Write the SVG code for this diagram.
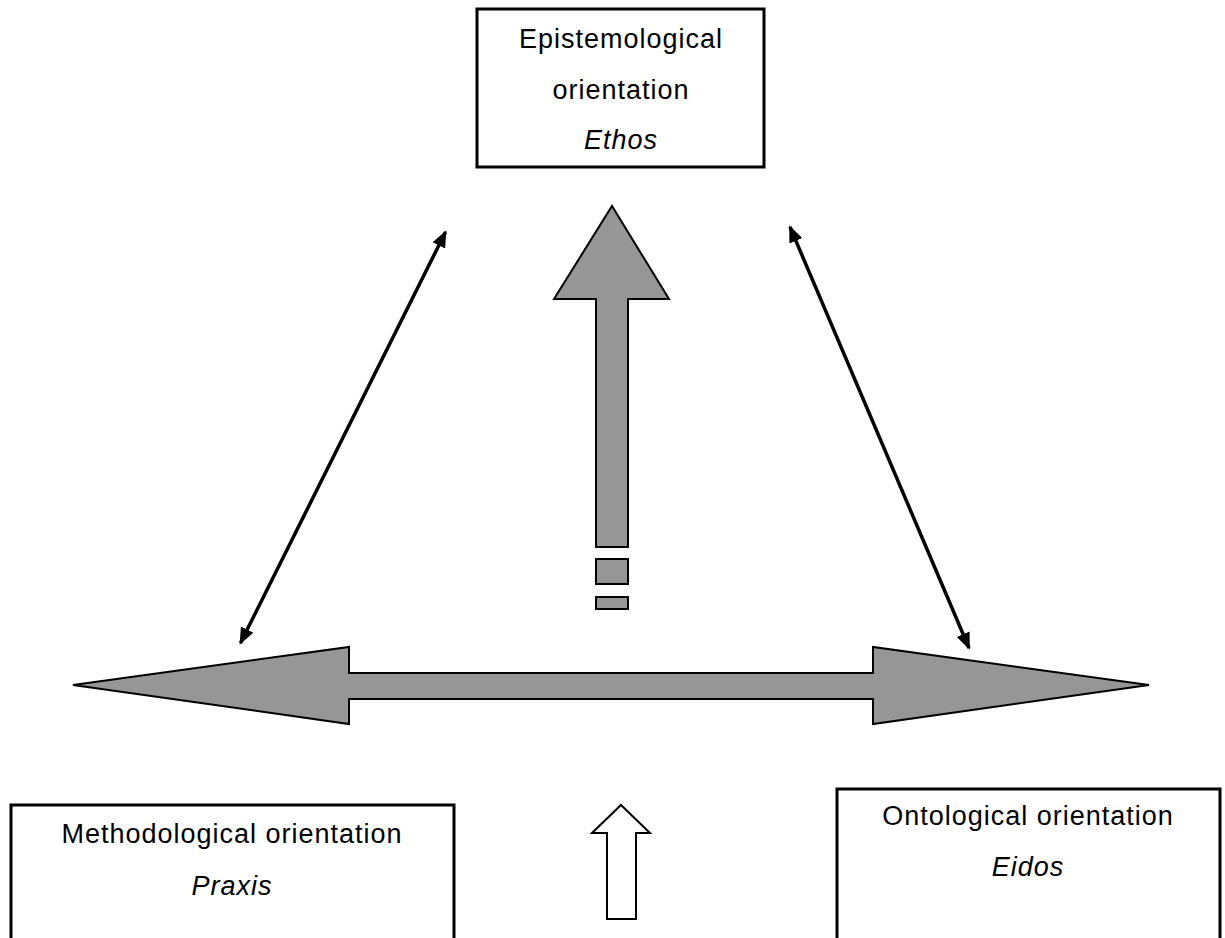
<svg xmlns="http://www.w3.org/2000/svg" width="1225" height="938" viewBox="0 0 1225 938">
<style>
.box{fill:#fff;stroke:#000;stroke-width:3}
.t{font-family:"Liberation Sans",Arial,sans-serif;font-size:27px;letter-spacing:1px;fill:#000;text-anchor:middle}
.i{font-style:italic}
.grey{fill:#969696;stroke:#000;stroke-width:2;stroke-linejoin:miter}
.conn{stroke:#000;stroke-width:3.5;fill:none;marker-start:url(#ah);marker-end:url(#ah)}
</style>
<defs>
<marker id="ah" viewBox="0 0 17 14" refX="15" refY="7" markerWidth="17" markerHeight="14" markerUnits="userSpaceOnUse" orient="auto-start-reverse">
<path d="M0,0 L17,7 L0,14 Z" fill="#000"/>
</marker>
</defs>
<rect width="1225" height="938" fill="#fff"/>
<g id="ethos">
<rect class="box" x="477" y="9" width="287" height="158"/>
<text class="t" x="621" y="48">Epistemological</text>
<text class="t" x="621" y="99">orientation</text>
<text class="t i" x="621" y="149">Ethos</text>
</g>
<g id="praxis">
<rect class="box" x="11" y="805" width="443" height="150"/>
<text class="t" x="232" y="843">Methodological orientation</text>
<text class="t i" x="232" y="895">Praxis</text>
</g>
<g id="eidos">
<rect class="box" x="837" y="789" width="383" height="170"/>
<text class="t" x="1028" y="825">Ontological orientation</text>
<text class="t i" x="1028" y="876">Eidos</text>
</g>
<g id="up-arrow">
<polygon class="grey" points="612,206 669,299 628,299 628,547 596,547 596,299 554,299"/>
<rect class="grey" x="596" y="559" width="32" height="25"/>
<rect class="grey" x="596" y="597" width="32" height="12"/>
</g>
<g id="horizontal-arrow">
<polygon class="grey" points="73,685 349,647 349,673 873,673 873,647 1149,685 873,724 873,699 349,699 349,724"/>
</g>
<g id="small-arrow">
<polygon points="621,805 650,833 636,833 636,919 607,919 607,833 592,833" fill="#fff" stroke="#000" stroke-width="2"/>
</g>
<g id="connectors">
<line class="conn" x1="445.5" y1="232" x2="240.5" y2="643"/>
<line class="conn" x1="790" y1="227" x2="969" y2="648"/>
</g>
</svg>
